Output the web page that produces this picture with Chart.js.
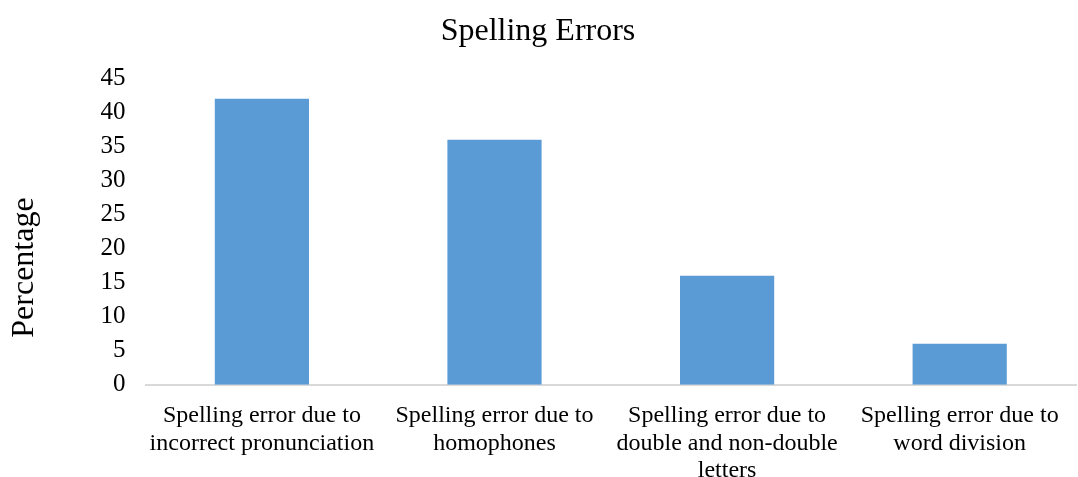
<!DOCTYPE html>
<html><head><meta charset="utf-8">
<script src="https://cdn.jsdelivr.net/npm/chart.js@4"></script>
<style>html,body{margin:0;padding:0;background:#fff}#wrap{width:1078px;height:477px}</style>
</head><body><div id="wrap"><canvas id="c" width="1078" height="477"></canvas></div>
<script>
const categories = [
  ["Spelling error due to","incorrect pronunciation"],
  ["Spelling error due to","homophones"],
  ["Spelling error due to","double and non-double","letters"],
  ["Spelling error due to","word division"]
];
const percentages = [42, 36, 16, 6];
const yTicks = [0,5,10,15,20,25,30,35,40,45];
const yTitleText = 'Percentage';
const FONT = "'Liberation Serif','Times New Roman',serif";
const yTitlePlugin = {
  id: 'yTitleShift',
  afterDraw(chart) {
    const ctx = chart.ctx, y = chart.scales.y;
    ctx.save();
    ctx.font = `32px ${FONT}`;
    ctx.fillStyle = '#000';
    ctx.textAlign = 'center';
    ctx.textBaseline = 'middle';
    ctx.translate(y.left + 25, (chart.chartArea.top + chart.chartArea.bottom) / 2 + 36);
    ctx.rotate(-Math.PI / 2);
    ctx.fillText(yTitleText, 0, 0);
    ctx.restore();
  }
};
new Chart(document.getElementById('c'), {
  type: 'bar',
  data: { labels: categories, datasets: [{ data: percentages, backgroundColor: '#5B9BD5', barPercentage: 0.405, categoryPercentage: 1 }] },
  options: {
    responsive: false, animation: false,
    layout: { padding: { left: 0, right: 2, top: 4, bottom: -17 } },
    plugins: {
      legend: { display: false }, tooltip: { enabled: false },
      title: { display: true, text: 'Spelling Errors', color: '#000', font: { family: FONT, size: 32, weight: 'normal' }, padding: { top: 8, bottom: 28 } }
    },
    scales: {
      x: {
        grid: { display: false },
        border: { display: true, color: '#D9D9D9', width: 2 },
        ticks: { color: '#000', font: { family: FONT, size: 24, lineHeight: 1.13 }, maxRotation: 0, autoSkip: false, padding: 10 }
      },
      y: {
        min: 0, max: 45,
        afterBuildTicks: s => { s.ticks = yTicks.map(v => ({ value: v })); },
        grid: { display: false },
        border: { display: false },
        ticks: { color: '#000', font: { family: FONT, size: 25 }, padding: 12 },
        title: { display: true, text: yTitleText, color: 'rgba(0,0,0,0)', font: { family: FONT, size: 33, weight: 'normal' }, padding: { bottom: 45 } }
      }
    }
  },
  plugins: [yTitlePlugin]
});
</script></body></html>
